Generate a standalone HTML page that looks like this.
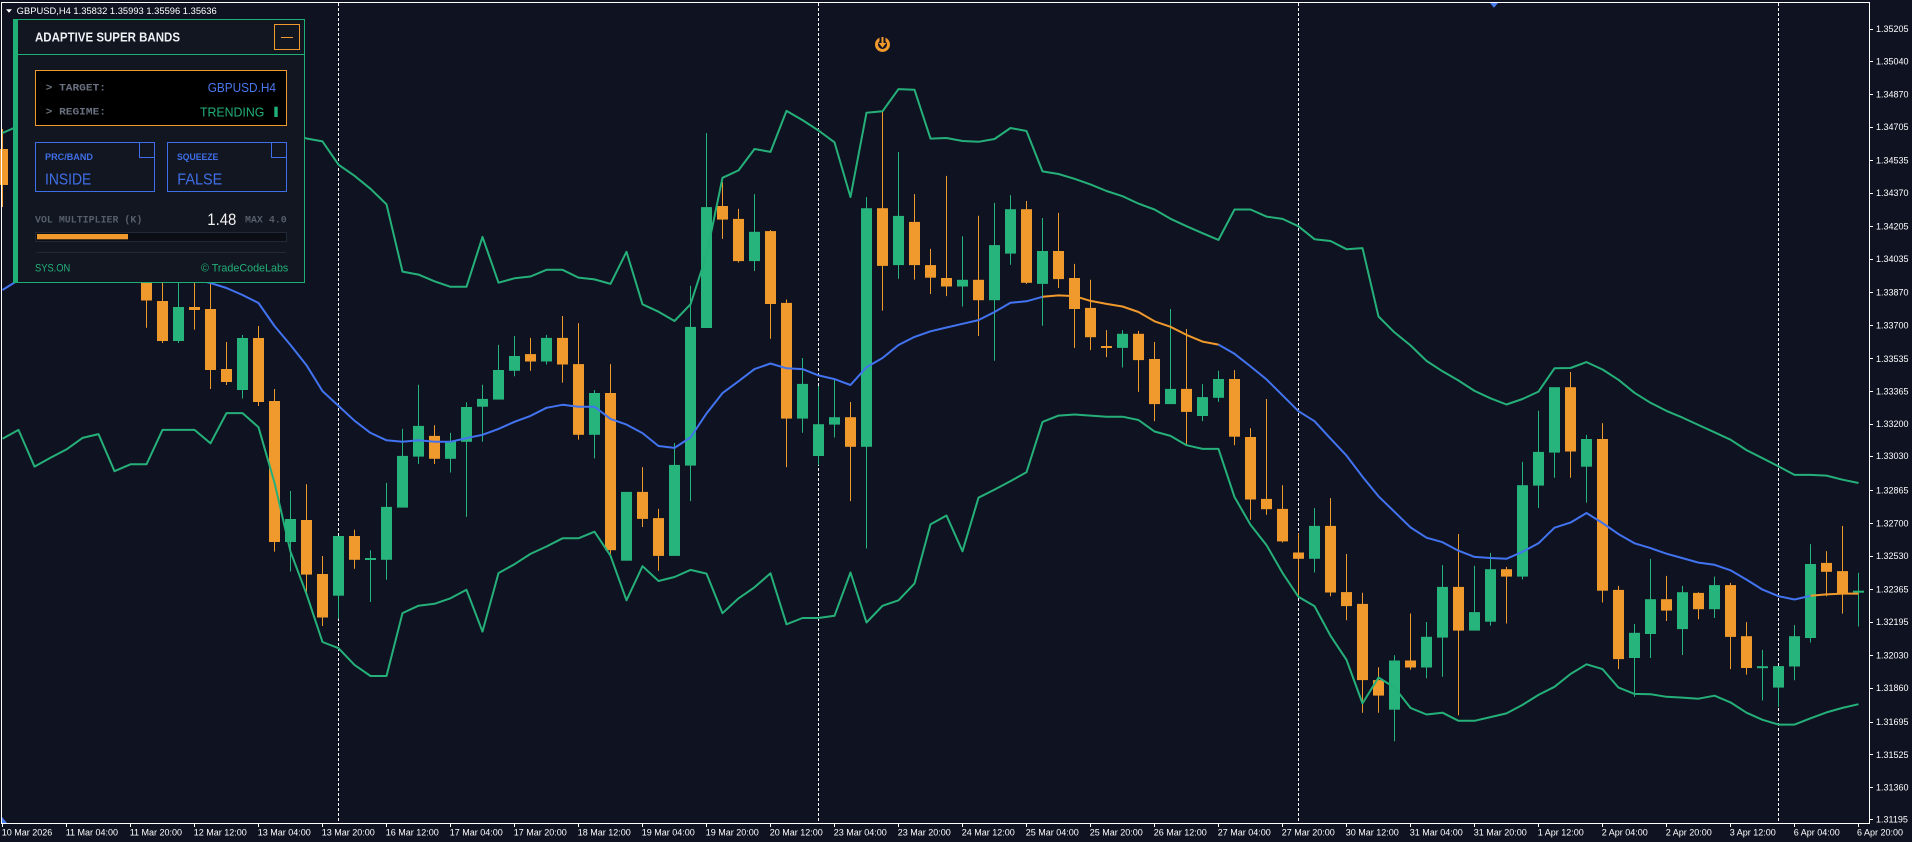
<!DOCTYPE html>
<html><head><meta charset="utf-8"><style>
html,body{margin:0;padding:0;background:#0f1220;}
svg{display:block}
text{font-family:"Liberation Sans",sans-serif;}
.mono{font-family:"Liberation Mono",monospace;}
</style></head><body>
<svg width="1912" height="842" viewBox="0 0 1912 842" xmlns="http://www.w3.org/2000/svg">
<rect x="0" y="0" width="1912" height="842" fill="#0f1220"/>
<!-- separators -->
<g stroke="#ffffff" stroke-width="1" stroke-dasharray="3,2">
<line x1="338.5" y1="3" x2="338.5" y2="823"/>
<line x1="818.5" y1="3" x2="818.5" y2="823"/>
<line x1="1298.5" y1="3" x2="1298.5" y2="823"/>
<line x1="1778.5" y1="3" x2="1778.5" y2="823"/>
</g>
<!-- orange wicks -->
<path stroke="#f0992c" stroke-width="1" fill="none" d="M2.5 129V207M146.5 260V327.7M162.5 270V343M194.5 270V329.6M210.5 270V389M226.5 342V385M258.5 326V406M274.5 389V551.6M306.5 484.3V594M322.5 556V626M354.5 529.8V568.7M434.5 425.2V464M530.5 337.9V370.8M562.5 316V382.6M578.5 323.1V439.6M610.5 364.1V553.9M642.5 467.1V527M658.5 508.9V570.7M722.5 182.3V238.9M738.5 208.9V262.5M770.5 230V338.7M786.5 299.5V467.1M850.5 402V501.1M882.5 112V310.6M914.5 194.1V279.6M930.5 248.9V294M946.5 175.9V296.1M978.5 215.8V336M1026.5 201V283.9M1058.5 212.9V288M1074.5 263.9V347.9M1090.5 279.8V350.1M1106.5 330.1V357.1M1138.5 330.9V391.9M1154.5 342V421.1M1186.5 329V445.2M1234.5 370.1V445.2M1250.5 428.2V519.9M1266.5 399V514.8M1282.5 485.2V542.5M1298.5 533.3V595.8M1330.5 498.1V596.2M1346.5 554V620.2M1362.5 592.8V712.7M1378.5 667.2V712.7M1410.5 613.5V669.8M1458.5 534V715.3M1506.5 566.9V623.5M1570.5 372V477.8M1602.5 423.1V602.5M1618.5 585.9V669.1M1666.5 575.9V621M1698.5 592.2V619.2M1730.5 582.9V669.1M1746.5 622.1V674.6M1826.5 551.1V596.2M1842.5 525.9V613.6"/>
<!-- green wicks -->
<path stroke="#26b37c" stroke-width="1" fill="none" d="M178.5 270V343M242.5 335V398.5M290.5 491V571.5M338.5 536V618.6M370.5 550.2V602M386.5 482.9V579.8M402.5 428.9V507.6M418.5 384.8V464M450.5 432.9V472.5M466.5 402.2V516.9M482.5 384.8V441.8M498.5 344.9V399.6M514.5 336V376.3M546.5 334.9V364.5M594.5 390V458.4M626.5 491.9V560.7M674.5 443V555.9M690.5 285.8V501.1M706.5 133.1V328M754.5 194.1V271M802.5 358V432.7M818.5 386.1V465.2M834.5 379.4V437.5M866.5 197.1V548.5M898.5 151.9V278.8M962.5 236.2V306.5M994.5 202.9V360.8M1010.5 195.1V264.7M1042.5 218V325.7M1122.5 330.1V367.5M1170.5 309V404.1M1202.5 384.1V421.1M1218.5 370.8V401.9M1314.5 508.1V572.5M1394.5 655.3V741.2M1426.5 622V678.3M1442.5 565.1V676.8M1474.5 565.8V630.6M1490.5 552.9V625.7M1522.5 461.9V579.5M1538.5 410.8V508.1M1554.5 387.2V477.8M1586.5 434.9V502.6M1634.5 624V696.8M1650.5 558.9V658M1682.5 585.9V655M1714.5 576.6V618M1762.5 649.9V700.5M1778.5 666.1V706.8M1794.5 625.1V680.2M1810.5 544.1V642.5M1858.5 572.9V626.5"/>
<!-- orange bodies -->
<g fill="#f0992c">
<rect x="-3" y="149" width="11" height="36"/>
<rect x="141" y="270" width="11" height="30.5"/>
<rect x="157" y="301" width="11" height="40"/>
<rect x="189" y="307" width="11" height="3"/>
<rect x="205" y="309" width="11" height="61"/>
<rect x="221" y="369" width="11" height="13"/>
<rect x="253" y="338" width="11" height="64"/>
<rect x="269" y="401" width="11" height="141"/>
<rect x="301" y="520" width="11" height="54.6"/>
<rect x="317" y="574" width="11" height="43.5"/>
<rect x="349" y="536" width="11" height="23.8"/>
<rect x="429" y="435.9" width="11" height="22.9"/>
<rect x="525" y="354.1" width="11" height="7.4"/>
<rect x="557" y="337.9" width="11" height="26.6"/>
<rect x="573" y="364.1" width="11" height="70.7"/>
<rect x="605" y="393" width="11" height="157.2"/>
<rect x="637" y="491.9" width="11" height="27"/>
<rect x="653" y="518.1" width="11" height="37.8"/>
<rect x="717" y="206" width="11" height="13.6"/>
<rect x="733" y="218.9" width="11" height="42.2"/>
<rect x="765" y="231.1" width="11" height="72.9"/>
<rect x="781" y="302.9" width="11" height="115.7"/>
<rect x="845" y="417.2" width="11" height="29.6"/>
<rect x="877" y="208.2" width="11" height="57.7"/>
<rect x="909" y="221.9" width="11" height="43.2"/>
<rect x="925" y="265.1" width="11" height="12.6"/>
<rect x="941" y="278" width="11" height="8.5"/>
<rect x="973" y="279.8" width="11" height="20.4"/>
<rect x="1021" y="209.2" width="11" height="73.6"/>
<rect x="1053" y="251" width="11" height="28.1"/>
<rect x="1069" y="278" width="11" height="31"/>
<rect x="1085" y="307.9" width="11" height="29.3"/>
<rect x="1101" y="346" width="11" height="2"/>
<rect x="1133" y="333.8" width="11" height="26.3"/>
<rect x="1149" y="359" width="11" height="45.1"/>
<rect x="1181" y="388.9" width="11" height="23"/>
<rect x="1229" y="379" width="11" height="57.7"/>
<rect x="1245" y="437" width="11" height="62.5"/>
<rect x="1261" y="498.9" width="11" height="10.3"/>
<rect x="1277" y="508.9" width="11" height="32.5"/>
<rect x="1293" y="552.5" width="11" height="6.3"/>
<rect x="1325" y="525.9" width="11" height="66.6"/>
<rect x="1341" y="592.1" width="11" height="14"/>
<rect x="1357" y="603.9" width="11" height="76.2"/>
<rect x="1373" y="680.1" width="11" height="15.5"/>
<rect x="1405" y="660.5" width="11" height="7"/>
<rect x="1453" y="586.9" width="11" height="43.7"/>
<rect x="1501" y="569.2" width="11" height="7.4"/>
<rect x="1565" y="387.2" width="11" height="64.3"/>
<rect x="1597" y="439" width="11" height="151.7"/>
<rect x="1613" y="589.9" width="11" height="69.2"/>
<rect x="1661" y="599.2" width="11" height="11.4"/>
<rect x="1693" y="592.9" width="11" height="16.3"/>
<rect x="1725" y="585.1" width="11" height="51.8"/>
<rect x="1741" y="636.2" width="11" height="31.8"/>
<rect x="1821" y="562.9" width="11" height="8.9"/>
<rect x="1837" y="571.1" width="11" height="22.9"/>
</g>
<!-- green bodies -->
<g fill="#26b37c">
<rect x="173" y="307" width="11" height="34"/>
<rect x="237" y="338" width="11" height="52"/>
<rect x="285" y="519" width="11" height="23"/>
<rect x="333" y="536" width="11" height="59.7"/>
<rect x="365" y="558" width="11" height="2"/>
<rect x="381" y="506.9" width="11" height="52.9"/>
<rect x="397" y="455.9" width="11" height="51.7"/>
<rect x="413" y="425.9" width="11" height="30.7"/>
<rect x="445" y="441.4" width="11" height="17.4"/>
<rect x="461" y="407" width="11" height="34.8"/>
<rect x="477" y="398.9" width="11" height="7.8"/>
<rect x="493" y="370" width="11" height="29.6"/>
<rect x="509" y="356" width="11" height="14.8"/>
<rect x="541" y="337.9" width="11" height="23.6"/>
<rect x="589" y="393" width="11" height="41.8"/>
<rect x="621" y="491.9" width="11" height="68.8"/>
<rect x="669" y="464.9" width="11" height="91"/>
<rect x="685" y="326.9" width="11" height="138.7"/>
<rect x="701" y="207.1" width="11" height="120.9"/>
<rect x="749" y="231.8" width="11" height="29.3"/>
<rect x="797" y="383.9" width="11" height="34.7"/>
<rect x="813" y="424.2" width="11" height="31.8"/>
<rect x="829" y="417.2" width="11" height="7.4"/>
<rect x="861" y="208.2" width="11" height="238.6"/>
<rect x="893" y="215.9" width="11" height="49.2"/>
<rect x="957" y="279.8" width="11" height="6.7"/>
<rect x="989" y="245.1" width="11" height="55.1"/>
<rect x="1005" y="209.2" width="11" height="44.4"/>
<rect x="1037" y="251" width="11" height="32.9"/>
<rect x="1117" y="333.8" width="11" height="14.1"/>
<rect x="1165" y="388.9" width="11" height="15.2"/>
<rect x="1197" y="397.1" width="11" height="18.9"/>
<rect x="1213" y="379" width="11" height="18.8"/>
<rect x="1309" y="525.9" width="11" height="32.9"/>
<rect x="1389" y="660.5" width="11" height="49.2"/>
<rect x="1421" y="636.8" width="11" height="30.7"/>
<rect x="1437" y="586.9" width="11" height="50.7"/>
<rect x="1469" y="612.1" width="11" height="18.5"/>
<rect x="1485" y="569.2" width="11" height="52.5"/>
<rect x="1517" y="485.2" width="11" height="91.4"/>
<rect x="1533" y="451.9" width="11" height="33.7"/>
<rect x="1549" y="387.2" width="11" height="65.4"/>
<rect x="1581" y="439" width="11" height="27.7"/>
<rect x="1629" y="632.8" width="11" height="25.2"/>
<rect x="1645" y="599.2" width="11" height="34.8"/>
<rect x="1677" y="592.2" width="11" height="36.9"/>
<rect x="1709" y="585.1" width="11" height="24.1"/>
<rect x="1757" y="666.2" width="11" height="2"/>
<rect x="1773" y="666.1" width="11" height="21.5"/>
<rect x="1789" y="636.2" width="11" height="30.3"/>
<rect x="1805" y="564" width="11" height="74"/>
<rect x="1853" y="590.7" width="11" height="2"/>
</g>
<!-- bands -->
<g fill="none" stroke-width="2" stroke-linejoin="round">
<polyline stroke="#25b07a" points="2.5,133 18.5,126 34.5,130 50.5,130 66.5,130 82.5,130 98.5,130 114.5,130 130.5,130 146.5,130 162.5,130 178.5,130 194.5,130 210.5,130 226.5,130 242.5,130 258.5,130 274.5,130 290.5,132 306.5,138.5 322.5,141.4 338.5,164.7 354.5,175.8 370.5,188.8 386.5,204.3 402.5,271.6 418.5,274.6 434.5,281.3 450.5,286.8 466.5,286.8 482.5,236.9 498.5,282.7 514.5,278.3 530.5,276.5 546.5,269.8 562.5,269.8 578.5,277.6 594.5,279.4 610.5,283.9 626.5,251.8 642.5,304.3 658.5,311.7 674.5,321 690.5,304.3 706.5,255 722.5,177.8 738.5,170.4 754.5,149 770.5,151.9 786.5,110.9 802.5,120.1 818.5,130.5 834.5,142.3 850.5,197.1 866.5,112.7 882.5,111.3 898.5,89.1 914.5,89.8 930.5,138.6 946.5,138 962.5,141 978.5,141.8 994.5,139 1010.5,128 1026.5,131 1042.5,171.4 1058.5,174 1074.5,178.8 1090.5,184.4 1106.5,191 1122.5,196.2 1138.5,203.6 1154.5,209.5 1170.5,218.8 1186.5,226.2 1202.5,233.2 1218.5,239.9 1234.5,209.5 1250.5,209.5 1266.5,216.6 1282.5,218.9 1298.5,226.3 1314.5,239.2 1330.5,241 1346.5,249.2 1362.5,248.1 1378.5,316.5 1394.5,332.4 1410.5,345.4 1426.5,360.9 1442.5,371.3 1458.5,380.5 1474.5,390.9 1490.5,398.3 1506.5,404.5 1522.5,399 1538.5,391.6 1554.5,368.3 1570.5,368 1586.5,362.1 1602.5,369.5 1618.5,379.8 1634.5,392.8 1650.5,402.8 1666.5,410.9 1682.5,417.6 1698.5,425 1714.5,432.3 1730.5,439.7 1746.5,450.1 1762.5,458.2 1778.5,466.4 1794.5,474.9 1810.5,474.9 1826.5,475.6 1842.5,479.7 1858.5,483"/>
<polyline stroke="#25b07a" points="2.5,438.7 18.5,429.9 34.5,466.6 50.5,457.8 66.5,449.4 82.5,437.9 98.5,434.1 114.5,471.2 130.5,464.3 146.5,464.3 162.5,429.9 178.5,429.9 194.5,429.9 210.5,443.3 226.5,413.1 242.5,413.1 258.5,427.2 274.5,482.7 290.5,551.6 306.5,594 322.5,642 338.5,648.2 354.5,664.9 370.5,676 386.5,676 402.5,613.1 418.5,605.7 434.5,603.8 450.5,598.3 466.5,589.8 482.5,631.6 498.5,573.1 514.5,564.2 530.5,553.9 546.5,546.5 562.5,538.3 578.5,538.3 594.5,531.7 610.5,555.7 626.5,600.3 642.5,566.2 658.5,581 674.5,577 690.5,569.9 706.5,573.6 722.5,613.2 738.5,598.4 754.5,587.3 770.5,573.3 786.5,624.3 802.5,618 818.5,618 834.5,615.8 850.5,572.5 866.5,622.5 882.5,605.8 898.5,600.3 914.5,583.6 930.5,524.4 946.5,515.5 962.5,551.3 978.5,497.7 994.5,489.6 1010.5,481.1 1026.5,472.2 1042.5,421.9 1058.5,415.6 1074.5,414.5 1090.5,415.6 1106.5,416.7 1122.5,416.7 1138.5,420 1154.5,431.5 1170.5,435.9 1186.5,445.2 1202.5,448.9 1218.5,448.9 1234.5,497 1250.5,524.7 1266.5,545.1 1282.5,572.9 1298.5,596.9 1314.5,606.1 1330.5,635.7 1346.5,659.8 1362.5,703.4 1378.5,677.5 1394.5,687.5 1410.5,707.9 1426.5,714.5 1442.5,712.7 1458.5,720.8 1474.5,720.8 1490.5,717.1 1506.5,713.4 1522.5,704.9 1538.5,694.9 1554.5,686.8 1570.5,674 1586.5,664.3 1602.5,669.1 1618.5,687.6 1634.5,693.9 1650.5,694.2 1666.5,696.8 1682.5,697.6 1698.5,698.7 1714.5,695.7 1730.5,702.4 1746.5,712.7 1762.5,719.8 1778.5,724.6 1794.5,724.6 1810.5,718.3 1826.5,712.4 1842.5,707.9 1858.5,704.2"/>
<polyline stroke="#4273f0" points="2.5,290 18.5,280 34.5,272 50.5,272 66.5,272 82.5,272 98.5,272 114.5,272 130.5,272 146.5,272 162.5,272 178.5,274 194.5,279 210.5,283 226.5,288 242.5,295 258.5,303 274.5,326 290.5,345 306.5,365.2 322.5,391.1 338.5,405.9 354.5,420.7 370.5,432.9 386.5,440.3 402.5,441.8 418.5,440.3 434.5,441.8 450.5,441.8 466.5,438.1 482.5,434.8 498.5,428.9 514.5,421.8 530.5,415.9 546.5,407.8 562.5,404.8 578.5,406.7 594.5,406.7 610.5,418.9 626.5,424.6 642.5,433.1 658.5,446 674.5,447.9 690.5,437.5 706.5,413.5 722.5,393.1 738.5,381.3 754.5,369.1 770.5,363.5 786.5,368.3 802.5,369.1 818.5,375.4 834.5,379.1 850.5,385 866.5,367.2 882.5,358 898.5,345 914.5,336.9 930.5,331.3 946.5,327.5 962.5,323.8 978.5,320.1 994.5,312 1010.5,302.8 1026.5,301.3 1042.5,296.8"/>
<polyline stroke="#f0992c" points="1042.5,296.8 1058.5,295.4 1074.5,296.1 1090.5,300.9 1106.5,303.9 1122.5,306.5 1138.5,312 1154.5,321.3 1170.5,326.8 1186.5,334.9 1202.5,341.6 1218.5,344.6"/>
<polyline stroke="#4273f0" points="1218.5,344.6 1234.5,353.8 1250.5,366.4 1266.5,379.4 1282.5,395.3 1298.5,411.2 1314.5,421.2 1330.5,438.6 1346.5,455.6 1362.5,476.7 1378.5,496.3 1394.5,511.8 1410.5,527.4 1426.5,537.7 1442.5,542.2 1458.5,550.7 1474.5,556.9 1490.5,558 1506.5,558.8 1522.5,551.8 1538.5,543.3 1554.5,527.7 1570.5,522.6 1586.5,513 1602.5,523 1618.5,534.1 1634.5,543.3 1650.5,548.1 1666.5,553.7 1682.5,558.1 1698.5,562.6 1714.5,564.8 1730.5,570.3 1746.5,579.6 1762.5,589.6 1778.5,596.2 1794.5,599.5 1810.5,595.8"/>
<polyline stroke="#f0992c" points="1810.5,595.8 1826.5,594.4 1842.5,593.6 1858.5,593.6"/>
</g>
<!-- top icon -->
<circle cx="882.5" cy="44.5" r="6" fill="none" stroke="#f0992c" stroke-width="3"/>
<rect x="879.5" y="36" width="6" height="5" fill="#0f1220"/>
<path d="M881.5 37h2v6h2.8l-3.8 4.8l-3.8-4.8h2.8z" fill="#f0992c"/>
<polygon points="1490,3 1498,3 1494,7.7" fill="#4a7cf0"/>
<polygon points="2,817 7,823 2,823" fill="#4a7cf0"/>
<!-- frame -->
<rect x="1.5" y="2.5" width="1868" height="821" fill="none" stroke="#ffffff" stroke-width="1"/>
<!-- y axis ticks & labels -->
<g stroke="#ffffff" stroke-width="1">
<path d="M1869 29.5h4M1869 61.5h4M1869 94.5h4M1869 127.5h4M1869 160.5h4M1869 193.5h4M1869 226.5h4M1869 259.5h4M1869 292.5h4M1869 325.5h4M1869 358.5h4M1869 391.5h4M1869 424.5h4M1869 456.5h4M1869 490.5h4M1869 523.5h4M1869 556.5h4M1869 589.5h4M1869 622.5h4M1869 655.5h4M1869 688.5h4M1869 722.5h4M1869 754.5h4M1869 787.5h4M1869 819.5h4"/>
</g>
<g fill="#ffffff" font-size="9">
<text x="1876" y="32.2">1.35205</text>
<text x="1876" y="64.5">1.35040</text>
<text x="1876" y="97.5">1.34870</text>
<text x="1876" y="130.2">1.34705</text>
<text x="1876" y="163.5">1.34535</text>
<text x="1876" y="196.2">1.34370</text>
<text x="1876" y="229.5">1.34205</text>
<text x="1876" y="262.2">1.34035</text>
<text x="1876" y="295.5">1.33870</text>
<text x="1876" y="328.5">1.33700</text>
<text x="1876" y="361.9">1.33535</text>
<text x="1876" y="394.5">1.33365</text>
<text x="1876" y="427.2">1.33200</text>
<text x="1876" y="459.2">1.33030</text>
<text x="1876" y="493.5">1.32865</text>
<text x="1876" y="526.5">1.32700</text>
<text x="1876" y="559.2">1.32530</text>
<text x="1876" y="592.5">1.32365</text>
<text x="1876" y="625.2">1.32195</text>
<text x="1876" y="658.5">1.32030</text>
<text x="1876" y="691.2">1.31860</text>
<text x="1876" y="725.2">1.31695</text>
<text x="1876" y="757.9">1.31525</text>
<text x="1876" y="790.5">1.31360</text>
<text x="1876" y="822.5">1.31195</text>
</g>
<!-- x axis ticks & labels -->
<path stroke="#ffffff" stroke-width="1" d="M2.5 823v4M66.5 823v4M130.5 823v4M194.5 823v4M258.5 823v4M322.5 823v4M386.5 823v4M450.5 823v4M514.5 823v4M578.5 823v4M642.5 823v4M706.5 823v4M770.5 823v4M834.5 823v4M898.5 823v4M962.5 823v4M1026.5 823v4M1090.5 823v4M1154.5 823v4M1218.5 823v4M1282.5 823v4M1346.5 823v4M1410.5 823v4M1474.5 823v4M1538.5 823v4M1602.5 823v4M1666.5 823v4M1730.5 823v4M1794.5 823v4M1858.5 823v4"/>
<g fill="#ffffff" font-size="9">
<text x="1.7" y="835.7">10 Mar 2026</text>
<text x="65.7" y="835.7">11 Mar 04:00</text>
<text x="129.7" y="835.7">11 Mar 20:00</text>
<text x="193.7" y="835.7">12 Mar 12:00</text>
<text x="257.7" y="835.7">13 Mar 04:00</text>
<text x="321.7" y="835.7">13 Mar 20:00</text>
<text x="385.7" y="835.7">16 Mar 12:00</text>
<text x="449.7" y="835.7">17 Mar 04:00</text>
<text x="513.7" y="835.7">17 Mar 20:00</text>
<text x="577.7" y="835.7">18 Mar 12:00</text>
<text x="641.7" y="835.7">19 Mar 04:00</text>
<text x="705.7" y="835.7">19 Mar 20:00</text>
<text x="769.7" y="835.7">20 Mar 12:00</text>
<text x="833.7" y="835.7">23 Mar 04:00</text>
<text x="897.7" y="835.7">23 Mar 20:00</text>
<text x="961.7" y="835.7">24 Mar 12:00</text>
<text x="1025.7" y="835.7">25 Mar 04:00</text>
<text x="1089.7" y="835.7">25 Mar 20:00</text>
<text x="1153.7" y="835.7">26 Mar 12:00</text>
<text x="1217.7" y="835.7">27 Mar 04:00</text>
<text x="1281.7" y="835.7">27 Mar 20:00</text>
<text x="1345.7" y="835.7">30 Mar 12:00</text>
<text x="1409.7" y="835.7">31 Mar 04:00</text>
<text x="1473.7" y="835.7">31 Mar 20:00</text>
<text x="1537.7" y="835.7">1 Apr 12:00</text>
<text x="1601.7" y="835.7">2 Apr 04:00</text>
<text x="1665.7" y="835.7">2 Apr 20:00</text>
<text x="1729.7" y="835.7">3 Apr 12:00</text>
<text x="1793.7" y="835.7">6 Apr 04:00</text>
<text x="1857" y="835.7">6 Apr 20:00</text>
</g>
<!-- header -->
<polygon points="6,9.3 12,9.3 9,12.7" fill="#ffffff"/>
<text x="16.7" y="14" font-size="9.3" fill="#ffffff" textLength="200" lengthAdjust="spacingAndGlyphs">GBPUSD,H4  1.35832 1.35993 1.35596 1.35636</text>
<!-- panel -->
<rect x="17.5" y="19.5" width="287" height="263" fill="#121620" stroke="#1fae76" stroke-width="1"/>
<rect x="13" y="19" width="5" height="264" fill="#1fae76"/>
<line x1="18" y1="54.5" x2="304" y2="54.5" stroke="#1fae76" stroke-width="1"/>
<text x="35" y="41.7" font-size="13" font-weight="bold" fill="#eef0f4" textLength="145" lengthAdjust="spacingAndGlyphs">ADAPTIVE SUPER BANDS</text>
<rect x="274.5" y="24.5" width="25" height="25" fill="none" stroke="#f0992c" stroke-width="1"/>
<line x1="281" y1="37.5" x2="293" y2="37.5" stroke="#f0992c" stroke-width="1"/>
<rect x="35.5" y="70.5" width="251" height="55" fill="#000000" stroke="#f0992c" stroke-width="1"/>
<text class="mono" x="45.7" y="90.7" font-size="10" font-weight="bold" fill="#6a7180" textLength="60.3" lengthAdjust="spacingAndGlyphs">&gt; TARGET:</text>
<text class="mono" x="45.7" y="114.7" font-size="10" font-weight="bold" fill="#6a7180" textLength="60.3" lengthAdjust="spacingAndGlyphs">&gt; REGIME:</text>
<text x="207.7" y="92" font-size="13" fill="#4a78f0" textLength="68.3" lengthAdjust="spacingAndGlyphs">GBPUSD.H4</text>
<text x="200" y="116.7" font-size="13" fill="#22b07a" textLength="64.3" lengthAdjust="spacingAndGlyphs">TRENDING</text>
<rect x="274.3" y="106.7" width="3.4" height="10.3" fill="#22b07a"/>
<rect x="35.5" y="142.5" width="119" height="49" fill="none" stroke="#3f6fe8" stroke-width="1"/>
<path d="M139.5 142.5V157.5H154.5" fill="none" stroke="#3f6fe8" stroke-width="1"/>
<rect x="167.5" y="142.5" width="119" height="49" fill="none" stroke="#3f6fe8" stroke-width="1"/>
<path d="M271.5 142.5V157.5H286.5" fill="none" stroke="#3f6fe8" stroke-width="1"/>
<text x="45" y="160" font-size="9" font-weight="bold" fill="#3f6fe8" textLength="48" lengthAdjust="spacingAndGlyphs">PRC/BAND</text>
<text x="45" y="184.3" font-size="16" fill="#3f6fe8" textLength="46.3" lengthAdjust="spacingAndGlyphs">INSIDE</text>
<text x="177" y="160" font-size="9" font-weight="bold" fill="#3f6fe8" textLength="41.3" lengthAdjust="spacingAndGlyphs">SQUEEZE</text>
<text x="177.3" y="184.3" font-size="16" fill="#3f6fe8" textLength="45" lengthAdjust="spacingAndGlyphs">FALSE</text>
<text class="mono" x="35" y="222.3" font-size="10" font-weight="bold" fill="#565e6b" textLength="107.3" lengthAdjust="spacingAndGlyphs">VOL MULTIPLIER (K)</text>
<text x="207.3" y="225" font-size="17" fill="#f0f0f0" textLength="29" lengthAdjust="spacingAndGlyphs">1.48</text>
<text class="mono" x="245" y="222.3" font-size="10" font-weight="bold" fill="#565e6b" textLength="41.7" lengthAdjust="spacingAndGlyphs">MAX 4.0</text>
<rect x="35.5" y="232.5" width="251" height="9" fill="#0b0e15" stroke="#222936" stroke-width="1"/>
<rect x="37" y="234" width="91" height="5.3" fill="#f0992c"/>
<line x1="36" y1="252.5" x2="286" y2="252.5" stroke="#222936" stroke-width="1"/>
<text x="35" y="271.7" font-size="11" fill="#22b07a" textLength="35.3" lengthAdjust="spacingAndGlyphs">SYS.ON</text>
<text x="201" y="271.7" font-size="11" fill="#22b07a" textLength="87.3" lengthAdjust="spacingAndGlyphs">© TradeCodeLabs</text>
</svg>
</body></html>
